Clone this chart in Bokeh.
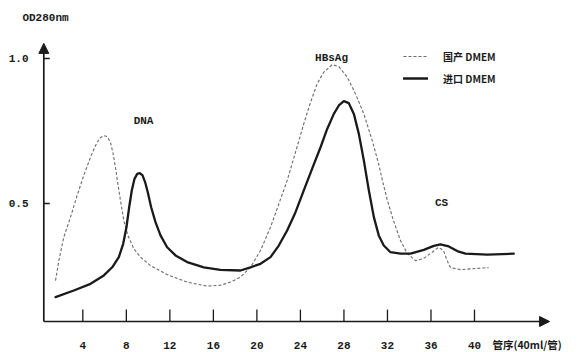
from bokeh.plotting import figure
from bokeh.models import Range1d, Label, Arrow, NormalHead, Legend, LegendItem
from bokeh.core.properties import value
from bokeh.embed import file_html
from bokeh.resources import INLINE

# 国产 DMEM (dashed curve)
x_dom = [1.49, 1.80, 2.25, 2.87, 3.48, 4.09, 4.71, 5.17, 5.56, 5.93, 6.24, 6.54, 6.79, 7.00,
         7.22, 7.46, 7.77, 8.14, 8.69, 9.30, 10.22, 11.75, 13.59, 15.43, 16.65, 17.57, 18.49,
         19.41, 20.33, 21.25, 22.02, 22.78, 23.55, 24.31, 24.93, 25.54, 26.15, 26.92, 27.53,
         28.30, 29.06, 29.83, 30.60, 31.18, 31.54, 32.00, 32.55, 33.20, 33.81, 34.58, 35.31,
         36.11, 36.69, 37.15, 37.49, 37.80, 38.72, 41.29]
y_dom = [0.234, 0.303, 0.384, 0.453, 0.528, 0.597, 0.660, 0.700, 0.726, 0.734, 0.731, 0.711,
         0.671, 0.625, 0.568, 0.510, 0.441, 0.390, 0.344, 0.315, 0.286, 0.255, 0.229, 0.215,
         0.218, 0.229, 0.246, 0.280, 0.338, 0.418, 0.499, 0.579, 0.677, 0.775, 0.849, 0.913,
         0.953, 0.979, 0.972, 0.936, 0.878, 0.809, 0.717, 0.638, 0.579, 0.510, 0.441, 0.372,
         0.328, 0.303, 0.310, 0.332, 0.349, 0.338, 0.303, 0.279, 0.272, 0.279]

# 进口 DMEM (solid curve)
x_imp = [1.49, 3.17, 4.71, 5.93, 6.70, 7.31, 7.71, 8.01, 8.26, 8.50, 8.75, 9.00, 9.24, 9.49,
         9.73, 9.97, 10.28, 10.68, 11.14, 11.75, 12.52, 13.59, 15.12, 16.65, 18.49, 19.41,
         20.33, 21.25, 22.01, 22.78, 23.55, 24.31, 25.08, 25.85, 26.46, 27.07, 27.53, 27.99,
         28.45, 28.91, 29.37, 29.83, 30.29, 30.75, 31.20, 31.66, 32.28, 33.20, 34.12, 35.34,
         36.26, 36.87, 37.64, 38.41, 39.17, 41.17, 43.61]
y_imp = [0.177, 0.200, 0.223, 0.252, 0.280, 0.315, 0.361, 0.418, 0.487, 0.545, 0.585, 0.602,
         0.605, 0.597, 0.573, 0.539, 0.487, 0.436, 0.390, 0.349, 0.321, 0.298, 0.280, 0.271,
         0.269, 0.280, 0.292, 0.315, 0.355, 0.407, 0.470, 0.545, 0.620, 0.694, 0.757, 0.809,
         0.838, 0.853, 0.846, 0.809, 0.740, 0.648, 0.545, 0.453, 0.390, 0.355, 0.332, 0.327,
         0.327, 0.340, 0.354, 0.359, 0.352, 0.336, 0.327, 0.324, 0.327]

x_ticks = [4, 8, 12, 16, 20, 24, 28, 32, 36, 40]
x_tick_labels = ["4", "8", "12", "16", "20", "24", "28", "32", "36", "40"]
y_ticks = [0.5, 1.0]
y_tick_labels = ["0.5", "1.0"]
series_names = ["国产 DMEM", "进口 DMEM"]
peak_names = ["DNA", "HBsAg", "CS"]
x_title = "管序(40ml/管)"
y_title = "OD280nm"

# axis geometry (data units)
X_MIN, X_MAX = -3.566, 49.834
Y_MIN, Y_MAX = -0.0138, 1.2
XA, YA = 0.414, 0.0931          # where the two axes cross
X_END, Y_END = 46.9, 1.052      # arrow tips
MONO = "Liberation Mono"
INK = "#1a1a1a"

p = figure(width=581, height=352, x_range=Range1d(X_MIN, X_MAX), y_range=Range1d(Y_MIN, Y_MAX),
           output_backend="svg", toolbar_location=None,
           x_axis_location=None, y_axis_location=None,
           min_border_left=0, min_border_right=0, min_border_top=0, min_border_bottom=0)
p.outline_line_color = None
p.grid.visible = False
p.background_fill_color = "white"
p.border_fill_color = "white"

r_dom = p.line(x_dom, y_dom, line_color="#6a6a6a", line_width=1.1, line_dash="3 2",
               line_join="round")
r_imp = p.line(x_imp, y_imp, line_color=INK, line_width=2.3, line_join="round",
               line_cap="round")

# axes with arrow heads
p.add_layout(Arrow(end=NormalHead(size=10, fill_color=INK, line_color=INK),
                   x_start=XA, y_start=YA, x_end=X_END, y_end=YA,
                   line_width=1.7, line_color=INK))
p.add_layout(Arrow(end=NormalHead(size=10, fill_color=INK, line_color=INK),
                   x_start=XA, y_start=YA, x_end=XA, y_end=Y_END,
                   line_width=1.7, line_color=INK))

# ticks (pointing inward)
p.segment(x0=x_ticks, y0=[YA] * len(x_ticks), x1=x_ticks, y1=[YA + 0.041] * len(x_ticks),
          line_color=INK, line_width=1.3)
p.segment(x0=[XA] * len(y_ticks), y0=y_ticks, x1=[XA + 0.55] * len(y_ticks), y1=y_ticks,
          line_color=INK, line_width=1.3)

# tick labels
p.text(x=x_ticks, y=[0.0100] * len(x_ticks), text=x_tick_labels, text_align="center",
       text_baseline="middle", text_font=value(MONO), text_font_style="bold",
       text_font_size="11px", text_color=INK)
p.text(x=[-0.99] * len(y_ticks), y=y_ticks, text=y_tick_labels, text_align="right",
       text_baseline="middle", text_font=value(MONO), text_font_style="bold",
       text_font_size="11px", text_color=INK)

def lab(x, y, t, align="center", font=MONO, size="11px"):
    p.add_layout(Label(x=x, y=y, text=t, text_align=align, text_baseline="middle",
                       text_font=font, text_font_style="bold", text_font_size=size,
                       text_color=INK))

lab(0.57, 1.141, y_title)
lab(9.58, 0.786, peak_names[0])
lab(26.86, 1.0, peak_names[1])
lab(36.97, 0.503, peak_names[2])
lab(41.65, 0.0150, x_title, align="left", font="Noto Sans CJK SC", size="10.5px")

legend = Legend(items=[LegendItem(label=series_names[0], renderers=[r_dom]),
                       LegendItem(label=series_names[1], renderers=[r_imp])],
                location=(403, 264), padding=0, margin=0, spacing=2,
                glyph_width=25, glyph_height=20, label_standoff=15,
                border_line_color=None, background_fill_alpha=0,
                label_text_font="Noto Sans CJK SC", label_text_font_style="bold",
                label_text_font_size="10px", label_text_color=INK)
p.add_layout(legend)

open("out.html", "w").write(file_html(p, INLINE))
